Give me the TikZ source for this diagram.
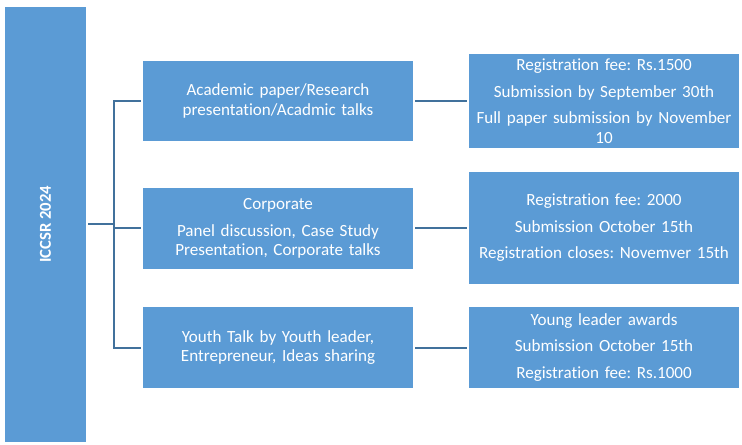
\documentclass[tikz,border=0pt]{standalone}
\usepackage{fontspec}
\setmainfont{Carlito}[Ligatures={NoCommon}]
\usepackage{tikz}
\usetikzlibrary{positioning, calc}
\definecolor{boxblue}{RGB}{91,155,213}
\definecolor{lineblue}{RGB}{65,113,156}
\frenchspacing

\begin{document}
\begin{tikzpicture}[
    x=0.75pt, y=-0.75pt,
    root/.style={
        rectangle, fill=boxblue,
        minimum width=60.75pt, minimum height=326.25pt,
        inner sep=0pt, text=white,
        font=\fontsize{12.5}{14.6}\selectfont\bfseries
    },
    topic/.style={
        rectangle, fill=boxblue,
        minimum width=202.5pt, minimum height=60.5pt,
        text width=200pt, align=center, inner sep=0pt,
        text=white, font=\fontsize{12.8}{14.6}\selectfont
    },
    detail/.style={
        topic
    },
    link/.style={draw=lineblue, line width=1.5pt, shorten <=1.5pt, shorten >=1.5pt}
]
\useasboundingbox (0,0) rectangle (742,445);

% --- root ---
\node[root] (iccsr) at (45.5,224.5) {};
\node[rotate=90, text=white, font=\fontsize{12.5}{14.6}\selectfont\bfseries] (iccsrlabel) at (iccsr) {ICCSR 2024};

% --- tracks ---
\node[topic] (academic)  at (278,101)   {Academic paper/Research\\presentation/Acadmic talks};
\node[topic] (corporate) at (278,228.5) {Corporate\\[5.3pt]Panel discussion, Case Study\\Presentation, Corporate talks};
\node[topic] (youth)     at (278,347.5) {Youth Talk by Youth leader,\\Entrepreneur, Ideas sharing};

% --- details of each track ---
\node[detail, minimum height=70.5pt] (academicinfo)  at (604,101)
    {Registration fee: Rs.1500\\[5.3pt]Submission by September 30th\\[5.3pt]Full paper submission by November\\10};
\node[detail, minimum height=84pt] (corporateinfo) at (604,228)
    {Registration fee: 2000\\[5.3pt]Submission October 15th\\[5.3pt]Registration closes: Novemver 15th};
\node[detail, minimum height=60.75pt] (youthinfo) at (604,347.5)
    {Young leader awards\\[5.3pt]Submission October 15th\\[5.3pt]Registration fee: Rs.1000};

% --- connectors ---
\coordinate (hub) at (114,224.5);
\draw[link, shorten >=0pt] (iccsr.east) -- (hub);
\draw[link, shorten <=0pt] (hub) |- (academic);
\draw[link, shorten <=0pt] (hub) |- (corporate);
\draw[link, shorten <=0pt] (hub) |- (youth);

\draw[link] (academic.east)  -- (academic.east -| academicinfo.west);
\draw[link] (corporate.east) -- (corporate.east -| corporateinfo.west);
\draw[link] (youth.east)     -- (youth.east -| youthinfo.west);

\end{tikzpicture}
\end{document}
